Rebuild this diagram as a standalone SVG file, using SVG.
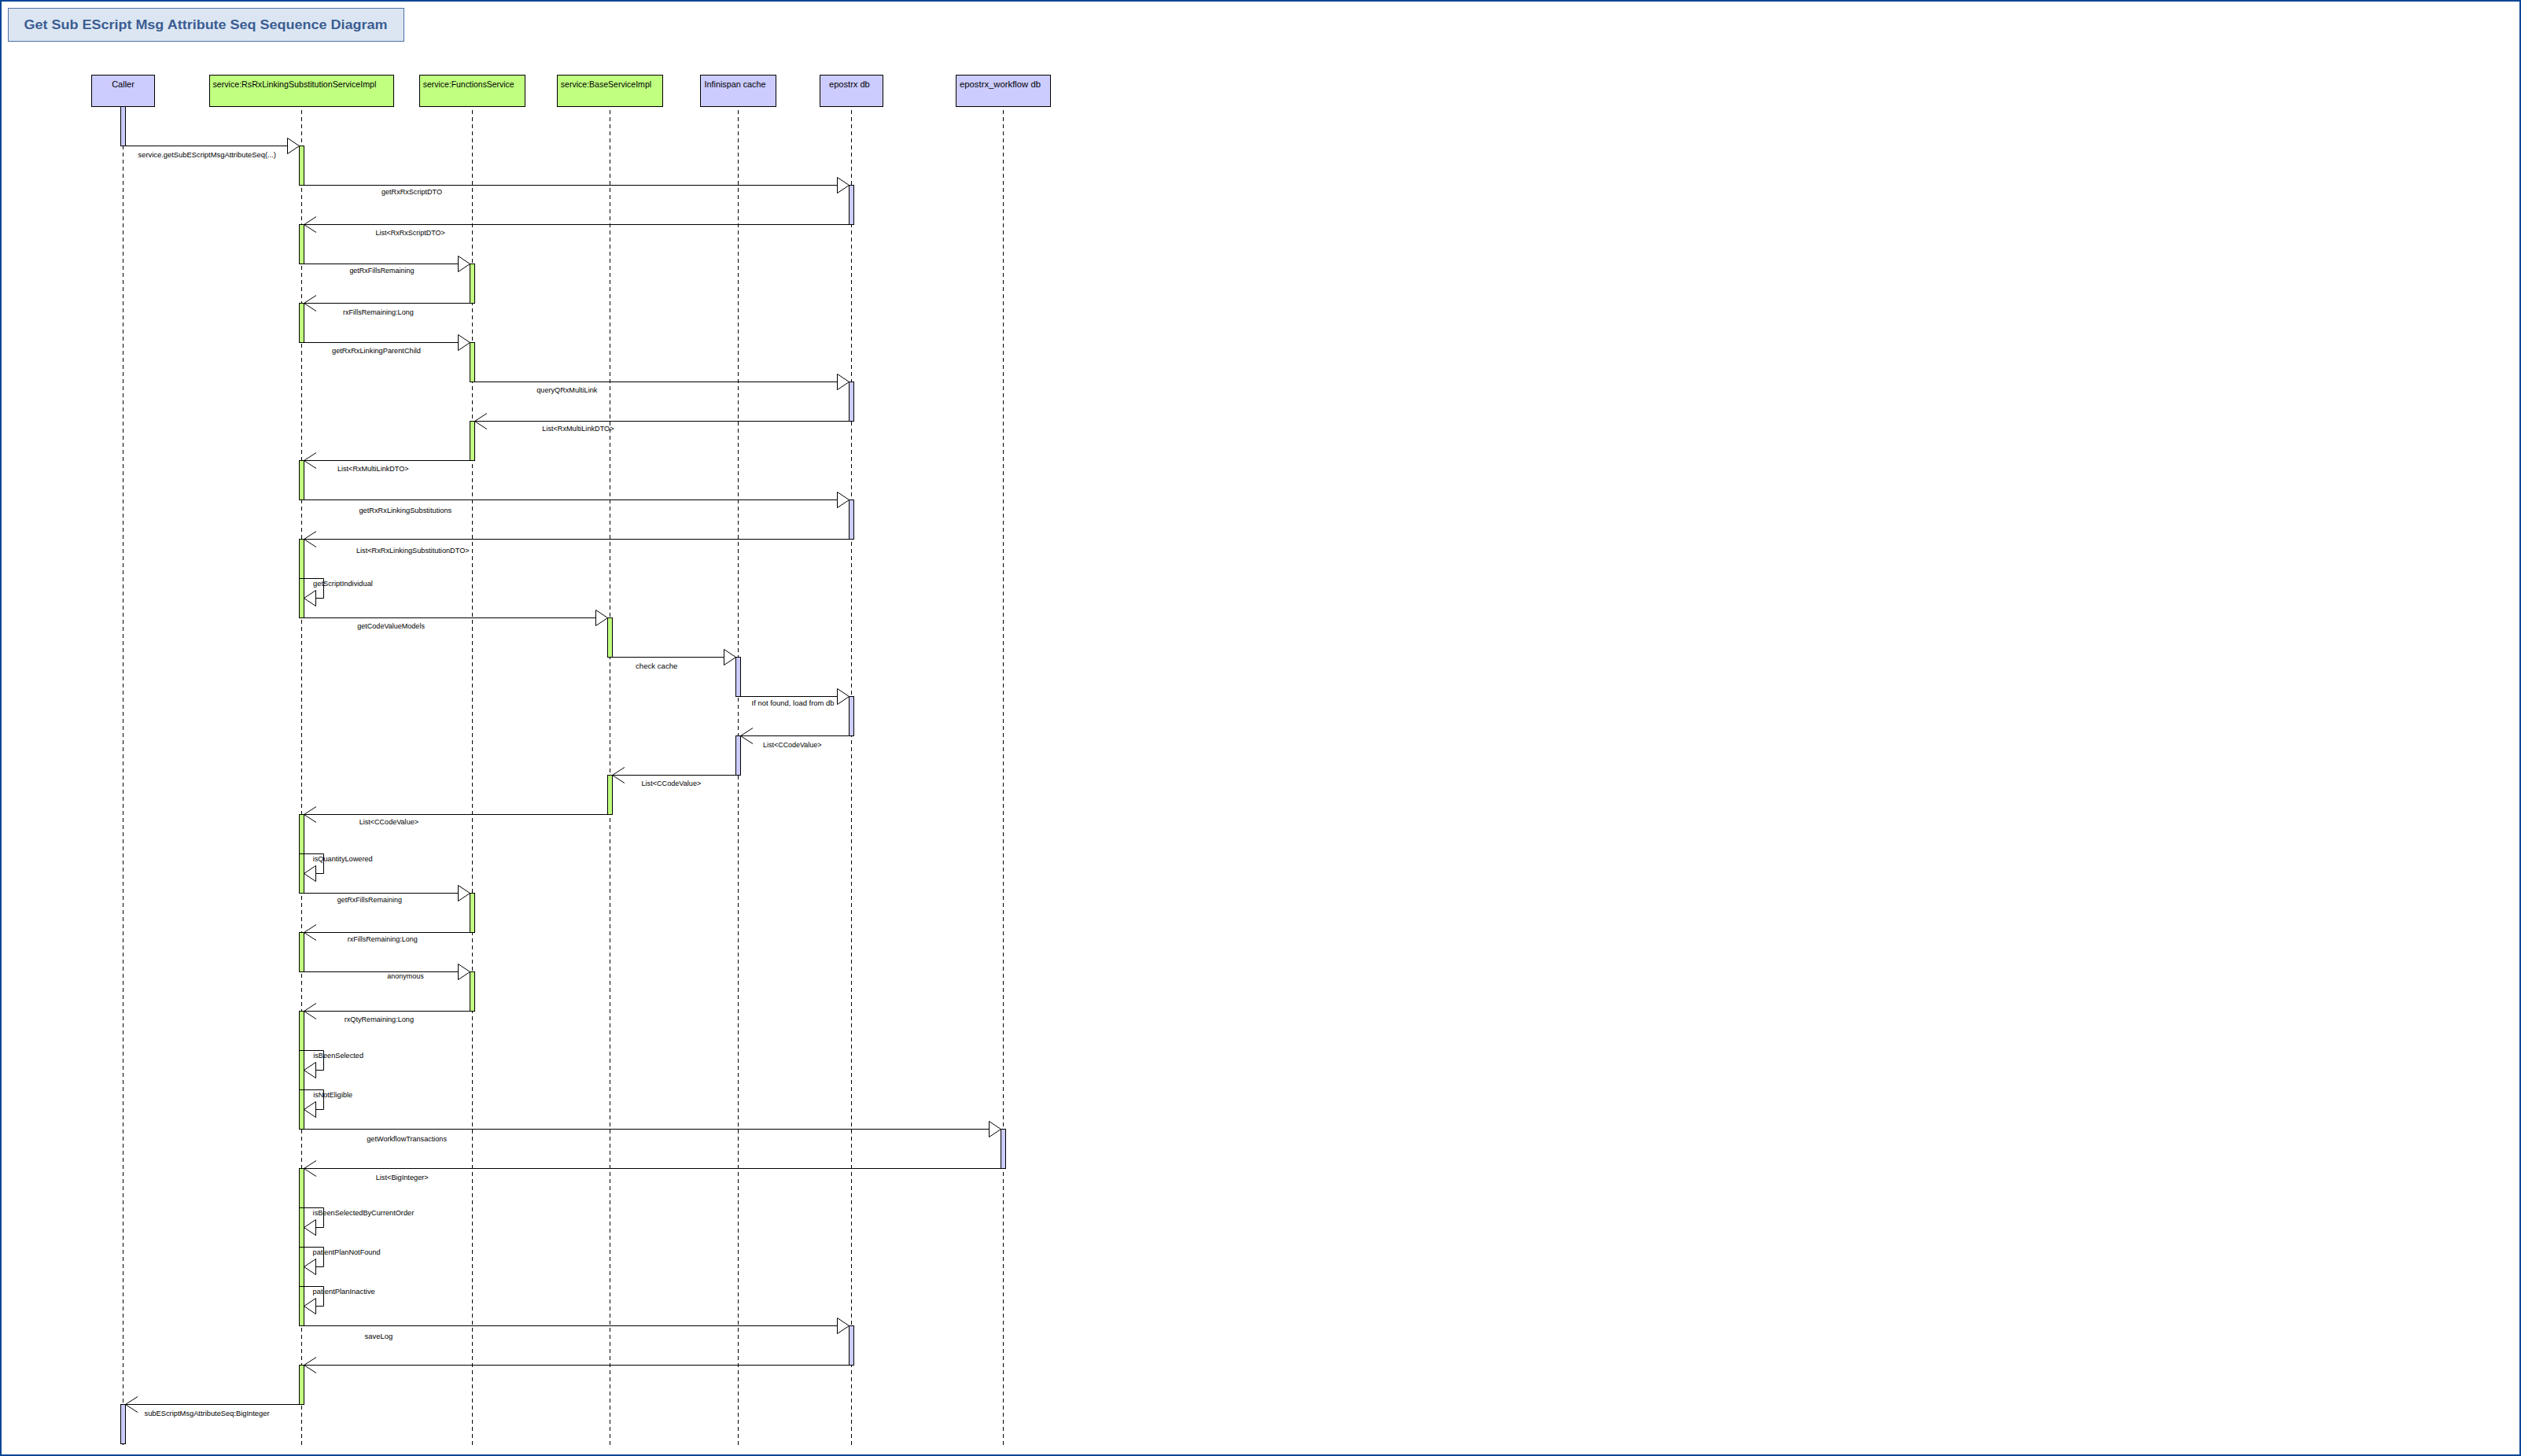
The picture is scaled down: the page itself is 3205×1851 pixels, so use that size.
<svg xmlns="http://www.w3.org/2000/svg" width="3205" height="1851" viewBox="0 0 3205 1851">
<style>
.bg{fill:#fff}
.frame{fill:none;stroke:#0b4796;stroke-width:2}
.tbox{fill:#dce6f2;stroke:#4f72a8;stroke-width:1}
.ttl{font-family:"Liberation Sans",Arial,sans-serif;font-size:16px;font-weight:bold;fill:#3b5d92}
.hg{fill:#c0ff80;stroke:#000;stroke-width:1}
.hl{fill:#ccccff;stroke:#000;stroke-width:1}
.ht{font-family:"Liberation Sans",Arial,sans-serif;font-size:11px;fill:#000}
.life{stroke:#000;stroke-width:1;stroke-dasharray:5 4;fill:none}
.bg2{fill:#c0ff80;stroke:#000;stroke-width:1}
.bl2{fill:#ccccff;stroke:#000;stroke-width:1}
.m{stroke:#000;stroke-width:1;fill:none}
.tri{fill:#fff;stroke:#000;stroke-width:1}
.lb{font-family:"Liberation Sans",Arial,sans-serif;font-size:9px;fill:#000}
</style>
<rect class="bg" x="0" y="0" width="3205" height="1851"/>
<rect class="frame" x="1" y="1" width="3203" height="1849"/>
<g id="title">
<rect class="tbox" x="10.5" y="10.5" width="503" height="42"/>
<text class="ttl" x="30.5" y="36.5" textLength="462" lengthAdjust="spacingAndGlyphs">Get Sub EScript Msg Attribute Seq Sequence Diagram</text>
</g>
<g id="caller">
<line class="life" x1="156.5" y1="140" x2="156.5" y2="1840"/>
<rect class="hl" x="116.5" y="95.5" width="80" height="40"/>
<text class="ht" x="156.5" y="110.7" text-anchor="middle">Caller</text>
<rect class="bl2" x="153.5" y="135.5" width="6" height="50"/>
<rect class="bl2" x="153.5" y="1785.5" width="6" height="50"/>
</g>
<g id="rsrx">
<line class="life" x1="383.5" y1="140" x2="383.5" y2="1840"/>
<rect class="hg" x="266.5" y="95.5" width="234" height="40"/>
<text class="ht" x="270.4" y="110.7" textLength="208" lengthAdjust="spacingAndGlyphs">service:RsRxLinkingSubstitutionServiceImpl</text>
<rect class="bg2" x="380.5" y="185.5" width="6" height="50"/>
<rect class="bg2" x="380.5" y="285.5" width="6" height="50"/>
<rect class="bg2" x="380.5" y="385.5" width="6" height="50"/>
<rect class="bg2" x="380.5" y="585.5" width="6" height="50"/>
<rect class="bg2" x="380.5" y="685.5" width="6" height="100"/>
<rect class="bg2" x="380.5" y="1035.5" width="6" height="100"/>
<rect class="bg2" x="380.5" y="1185.5" width="6" height="50"/>
<rect class="bg2" x="380.5" y="1285.5" width="6" height="150"/>
<rect class="bg2" x="380.5" y="1485.5" width="6" height="200"/>
<rect class="bg2" x="380.5" y="1735.5" width="6" height="50"/>
</g>
<g id="functions">
<line class="life" x1="600.5" y1="140" x2="600.5" y2="1840"/>
<rect class="hg" x="533.5" y="95.5" width="134" height="40"/>
<text class="ht" x="537.8" y="110.7" textLength="115.8" lengthAdjust="spacingAndGlyphs">service:FunctionsService</text>
<rect class="bg2" x="597.5" y="335.5" width="6" height="50"/>
<rect class="bg2" x="597.5" y="435.5" width="6" height="50"/>
<rect class="bg2" x="597.5" y="535.5" width="6" height="50"/>
<rect class="bg2" x="597.5" y="1135.5" width="6" height="50"/>
<rect class="bg2" x="597.5" y="1235.5" width="6" height="50"/>
</g>
<g id="base">
<line class="life" x1="775.5" y1="140" x2="775.5" y2="1840"/>
<rect class="hg" x="708.5" y="95.5" width="134" height="40"/>
<text class="ht" x="712.8" y="110.7" textLength="115.3" lengthAdjust="spacingAndGlyphs">service:BaseServiceImpl</text>
<rect class="bg2" x="772.5" y="785.5" width="6" height="50"/>
<rect class="bg2" x="772.5" y="985.5" width="6" height="50"/>
</g>
<g id="infinispan">
<line class="life" x1="938.5" y1="140" x2="938.5" y2="1840"/>
<rect class="hl" x="890.5" y="95.5" width="96" height="40"/>
<text class="ht" x="895.5" y="110.7" textLength="78" lengthAdjust="spacingAndGlyphs">Infinispan cache</text>
<rect class="bl2" x="935.5" y="835.5" width="6" height="50"/>
<rect class="bl2" x="935.5" y="935.5" width="6" height="50"/>
</g>
<g id="epostrx">
<line class="life" x1="1082.5" y1="140" x2="1082.5" y2="1840"/>
<rect class="hl" x="1042.5" y="95.5" width="80" height="40"/>
<text class="ht" x="1054" y="110.7" textLength="51.8" lengthAdjust="spacingAndGlyphs">epostrx db</text>
<rect class="bl2" x="1079.5" y="235.5" width="6" height="50"/>
<rect class="bl2" x="1079.5" y="485.5" width="6" height="50"/>
<rect class="bl2" x="1079.5" y="635.5" width="6" height="50"/>
<rect class="bl2" x="1079.5" y="885.5" width="6" height="50"/>
<rect class="bl2" x="1079.5" y="1685.5" width="6" height="50"/>
</g>
<g id="workflow">
<line class="life" x1="1275.5" y1="140" x2="1275.5" y2="1840"/>
<rect class="hl" x="1215.5" y="95.5" width="120" height="40"/>
<text class="ht" x="1220" y="110.7" textLength="103" lengthAdjust="spacingAndGlyphs">epostrx_workflow db</text>
<rect class="bl2" x="1272.5" y="1435.5" width="6" height="50"/>
</g>
<g id="connectors">
<path class="m" d="M153.5 185.5H365.5"/><polygon class="tri" points="365.5,175.5 380.5,185.5 365.5,195.5"/>
<path class="m" d="M380.5 235.5H1064.5"/><polygon class="tri" points="1064.5,225.5 1079.5,235.5 1064.5,245.5"/>
<path class="m" d="M380.5 285.5H1085.5M402 275.5L386.5 285.5L402 295.5"/>
<path class="m" d="M380.5 335.5H582.5"/><polygon class="tri" points="582.5,325.5 597.5,335.5 582.5,345.5"/>
<path class="m" d="M380.5 385.5H603.5M402 375.5L386.5 385.5L402 395.5"/>
<path class="m" d="M380.5 435.5H582.5"/><polygon class="tri" points="582.5,425.5 597.5,435.5 582.5,445.5"/>
<path class="m" d="M597.5 485.5H1064.5"/><polygon class="tri" points="1064.5,475.5 1079.5,485.5 1064.5,495.5"/>
<path class="m" d="M597.5 535.5H1085.5M619 525.5L603.5 535.5L619 545.5"/>
<path class="m" d="M380.5 585.5H603.5M402 575.5L386.5 585.5L402 595.5"/>
<path class="m" d="M380.5 635.5H1064.5"/><polygon class="tri" points="1064.5,625.5 1079.5,635.5 1064.5,645.5"/>
<path class="m" d="M380.5 685.5H1085.5M402 675.5L386.5 685.5L402 695.5"/>
<path class="m" d="M380.5 735.5H411.5V760.5H401.5"/><polygon class="tri" points="401.5,750.5 386.5,760.5 401.5,770.5"/>
<path class="m" d="M380.5 785.5H757.5"/><polygon class="tri" points="757.5,775.5 772.5,785.5 757.5,795.5"/>
<path class="m" d="M772.5 835.5H920.5"/><polygon class="tri" points="920.5,825.5 935.5,835.5 920.5,845.5"/>
<path class="m" d="M935.5 885.5H1064.5"/><polygon class="tri" points="1064.5,875.5 1079.5,885.5 1064.5,895.5"/>
<path class="m" d="M935.5 935.5H1085.5M957 925.5L941.5 935.5L957 945.5"/>
<path class="m" d="M772.5 985.5H941.5M794 975.5L778.5 985.5L794 995.5"/>
<path class="m" d="M380.5 1035.5H778.5M402 1025.5L386.5 1035.5L402 1045.5"/>
<path class="m" d="M380.5 1085.5H411.5V1110.5H401.5"/><polygon class="tri" points="401.5,1100.5 386.5,1110.5 401.5,1120.5"/>
<path class="m" d="M380.5 1135.5H582.5"/><polygon class="tri" points="582.5,1125.5 597.5,1135.5 582.5,1145.5"/>
<path class="m" d="M380.5 1185.5H603.5M402 1175.5L386.5 1185.5L402 1195.5"/>
<path class="m" d="M380.5 1235.5H582.5"/><polygon class="tri" points="582.5,1225.5 597.5,1235.5 582.5,1245.5"/>
<path class="m" d="M380.5 1285.5H603.5M402 1275.5L386.5 1285.5L402 1295.5"/>
<path class="m" d="M380.5 1335.5H411.5V1360.5H401.5"/><polygon class="tri" points="401.5,1350.5 386.5,1360.5 401.5,1370.5"/>
<path class="m" d="M380.5 1385.5H411.5V1410.5H401.5"/><polygon class="tri" points="401.5,1400.5 386.5,1410.5 401.5,1420.5"/>
<path class="m" d="M380.5 1435.5H1257.5"/><polygon class="tri" points="1257.5,1425.5 1272.5,1435.5 1257.5,1445.5"/>
<path class="m" d="M380.5 1485.5H1278.5M402 1475.5L386.5 1485.5L402 1495.5"/>
<path class="m" d="M380.5 1535.5H411.5V1560.5H401.5"/><polygon class="tri" points="401.5,1550.5 386.5,1560.5 401.5,1570.5"/>
<path class="m" d="M380.5 1585.5H411.5V1610.5H401.5"/><polygon class="tri" points="401.5,1600.5 386.5,1610.5 401.5,1620.5"/>
<path class="m" d="M380.5 1635.5H411.5V1660.5H401.5"/><polygon class="tri" points="401.5,1650.5 386.5,1660.5 401.5,1670.5"/>
<path class="m" d="M380.5 1685.5H1064.5"/><polygon class="tri" points="1064.5,1675.5 1079.5,1685.5 1064.5,1695.5"/>
<path class="m" d="M380.5 1735.5H1085.5M402 1725.5L386.5 1735.5L402 1745.5"/>
<path class="m" d="M153.5 1785.5H386.5M175 1775.5L159.5 1785.5L175 1795.5"/>
</g>
<g id="labels">
<text class="lb" x="175.5" y="200" textLength="175.5" lengthAdjust="spacingAndGlyphs">service.getSubEScriptMsgAttributeSeq(...)</text>
<text class="lb" x="485" y="246.5" textLength="77" lengthAdjust="spacingAndGlyphs">getRxRxScriptDTO</text>
<text class="lb" x="477.4" y="298.5" textLength="88.4" lengthAdjust="spacingAndGlyphs">List&lt;RxRxScriptDTO&gt;</text>
<text class="lb" x="444.4" y="346.8" textLength="82" lengthAdjust="spacingAndGlyphs">getRxFillsRemaining</text>
<text class="lb" x="436" y="400.2" textLength="89.8" lengthAdjust="spacingAndGlyphs">rxFillsRemaining:Long</text>
<text class="lb" x="422" y="448.5" textLength="113" lengthAdjust="spacingAndGlyphs">getRxRxLinkingParentChild</text>
<text class="lb" x="682.3" y="498.5" textLength="77" lengthAdjust="spacingAndGlyphs">queryQRxMultiLink</text>
<text class="lb" x="689.3" y="547.8" textLength="91.2" lengthAdjust="spacingAndGlyphs">List&lt;RxMultiLinkDTO&gt;</text>
<text class="lb" x="429" y="598.5" textLength="90.5" lengthAdjust="spacingAndGlyphs">List&lt;RxMultiLinkDTO&gt;</text>
<text class="lb" x="456.4" y="651.8" textLength="117.8" lengthAdjust="spacingAndGlyphs">getRxRxLinkingSubstitutions</text>
<text class="lb" x="452.9" y="702.5" textLength="143.8" lengthAdjust="spacingAndGlyphs">List&lt;RxRxLinkingSubstitutionDTO&gt;</text>
<text class="lb" x="398.1" y="745" textLength="75.8" lengthAdjust="spacingAndGlyphs">getScriptIndividual</text>
<text class="lb" x="454.3" y="799.2" textLength="85.6" lengthAdjust="spacingAndGlyphs">getCodeValueModels</text>
<text class="lb" x="808" y="849.8" textLength="53.4" lengthAdjust="spacingAndGlyphs">check cache</text>
<text class="lb" x="955.6" y="896.5" textLength="105" lengthAdjust="spacingAndGlyphs">If not found, load from db</text>
<text class="lb" x="970" y="949.8" textLength="74.5" lengthAdjust="spacingAndGlyphs">List&lt;CCodeValue&gt;</text>
<text class="lb" x="815.5" y="998.5" textLength="75.8" lengthAdjust="spacingAndGlyphs">List&lt;CCodeValue&gt;</text>
<text class="lb" x="456.7" y="1047.5" textLength="75.3" lengthAdjust="spacingAndGlyphs">List&lt;CCodeValue&gt;</text>
<text class="lb" x="397.7" y="1094.8" textLength="76" lengthAdjust="spacingAndGlyphs">isQuantityLowered</text>
<text class="lb" x="428.7" y="1146.5" textLength="82.3" lengthAdjust="spacingAndGlyphs">getRxFillsRemaining</text>
<text class="lb" x="441.7" y="1196.5" textLength="89" lengthAdjust="spacingAndGlyphs">rxFillsRemaining:Long</text>
<text class="lb" x="492.3" y="1244" textLength="46.4" lengthAdjust="spacingAndGlyphs">anonymous</text>
<text class="lb" x="437.7" y="1298.5" textLength="88.3" lengthAdjust="spacingAndGlyphs">rxQtyRemaining:Long</text>
<text class="lb" x="398.2" y="1345.2" textLength="63.8" lengthAdjust="spacingAndGlyphs">isBeenSelected</text>
<text class="lb" x="398.2" y="1395.2" textLength="49.8" lengthAdjust="spacingAndGlyphs">isNotEligible</text>
<text class="lb" x="466.3" y="1451.2" textLength="101.7" lengthAdjust="spacingAndGlyphs">getWorkflowTransactions</text>
<text class="lb" x="477.7" y="1499.5" textLength="67" lengthAdjust="spacingAndGlyphs">List&lt;BigInteger&gt;</text>
<text class="lb" x="397.6" y="1545.2" textLength="128.6" lengthAdjust="spacingAndGlyphs">isBeenSelectedByCurrentOrder</text>
<text class="lb" x="397.6" y="1594.5" textLength="86" lengthAdjust="spacingAndGlyphs">patientPlanNotFound</text>
<text class="lb" x="397.6" y="1644.5" textLength="79.2" lengthAdjust="spacingAndGlyphs">patientPlanInactive</text>
<text class="lb" x="463.6" y="1701.8" textLength="35.6" lengthAdjust="spacingAndGlyphs">saveLog</text>
<text class="lb" x="183.5" y="1799.8" textLength="159" lengthAdjust="spacingAndGlyphs">subEScriptMsgAttributeSeq:BigInteger</text>
</g>
</svg>
